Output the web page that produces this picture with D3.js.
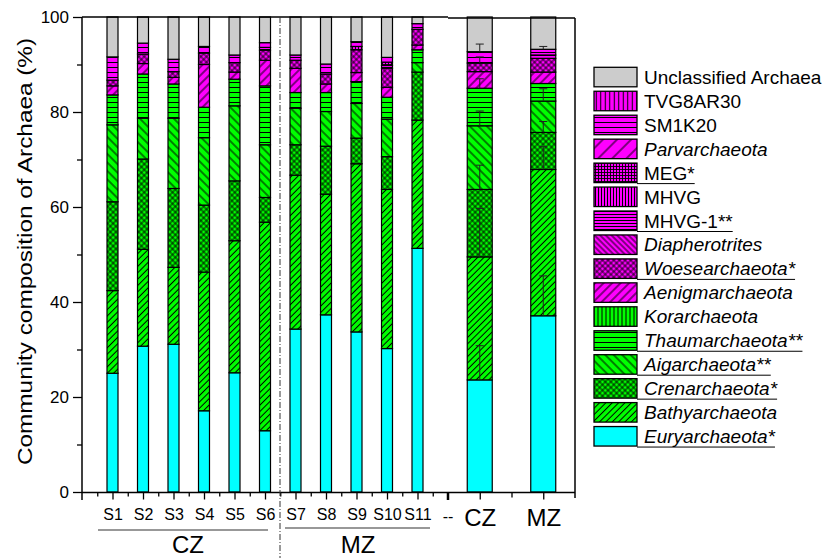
<!DOCTYPE html>
<html><head><meta charset="utf-8">
<script src="https://cdn.jsdelivr.net/npm/d3@7"></script>
<style>body{margin:0;background:#fff}svg{display:block}text{font-family:"Liberation Sans",Arial,sans-serif}</style>
</head><body><svg id="c" width="829" height="558"></svg>
<script>
// ---- data (S1..S11, then CZ mean, MZ mean) ----
const samples = ["S1","S2","S3","S4","S5","S6","S7","S8","S9","S10","S11"];
const means = ["CZ","MZ"];
const groupLabels = ["CZ","MZ"];
const yTicks = [0,20,40,60,80,100];
// bottom-up stacking order
const euryarchaeota   = [25.0,30.7,31.1,17.1,25.1,12.9,34.3,37.3,33.7,30.2,51.3, 23.6,37.1];
const bathyarchaeota  = [17.4,20.4,16.2,29.2,27.8,43.9,32.4,25.4,35.4,33.5,27.0, 25.9,30.8];
const crenarchaeota   = [18.7,19.0,16.6,14.1,12.6, 5.2, 6.4,10.1, 5.4, 6.9,10.1, 14.2, 7.8];
const aigarchaeota    = [16.2, 8.6,14.8,14.2,15.8,11.1, 7.7, 7.3, 7.3, 7.9, 2.0, 13.4, 6.6];
const thaumarchaeota  = [ 6.3, 9.3, 7.2, 6.4, 5.6,12.4, 3.3, 4.0, 4.6, 4.6, 2.7,  7.9, 3.7];
const korarchaeota    = [ 0.0, 0.0, 0.0, 0.0, 0.0, 0.0, 0.0, 0.0, 0.0, 0.0, 0.0,  0.0, 0.0];
const aenigmarchaeota = [ 1.9, 2.2, 1.4, 9.0, 1.5, 5.4, 5.1, 1.8, 1.9, 2.1, 1.0,  3.5, 2.4];
const woesearchaeota  = [ 1.2, 2.0, 1.2, 2.4, 2.0, 2.1, 1.7, 2.1, 4.8, 4.0, 3.3,  1.8, 2.9];
const diapherotrites  = [ 0.0, 0.0, 0.0, 0.0, 0.0, 0.0, 0.0, 0.0, 0.0, 0.0, 0.0,  0.0, 0.0];
const mhvg1           = [ 0.0, 0.0, 0.0, 0.0, 0.0, 0.6, 0.0, 0.0, 0.0, 0.6, 0.0,  0.0, 0.7];
const mhvg            = [ 0.0, 0.0, 0.0, 0.0, 0.0, 0.0, 0.0, 0.0, 0.0, 0.0, 0.0,  0.0, 0.0];
const meg             = [ 0.0, 0.0, 0.0, 0.0, 0.0, 0.0, 0.0, 0.0, 0.7, 0.7, 0.0,  0.0, 0.0];
const parvarchaeota   = [ 0.0, 0.0, 0.0, 0.0, 0.0, 0.0, 0.0, 0.0, 0.0, 0.0, 0.0,  0.0, 0.0];
const sm1k20          = [ 4.9, 2.3, 2.6, 1.4, 1.6, 1.0, 1.1, 2.1, 1.0, 1.0, 1.2,  2.4, 1.2];
const tvg8ar30        = [ 0.0, 0.0, 0.0, 0.0, 0.0, 0.0, 0.0, 0.0, 0.0, 0.0, 0.0,  0.0, 0.0];
const unclassified    = [ 8.4, 5.5, 8.9, 6.2, 8.0, 5.4, 8.0, 9.9, 5.2, 8.5, 1.4,  7.3, 6.8];
// error bars (upper) for CZ and MZ means, same order as taxa below
const errCZ = [7.2,10.2,5.1,3.1,2.0,0,0,1.3,0,0,0,0,0,1.6,0,0];
const errMZ = [8.4,4.8,2.3,2.6,0,0,0,0,0,0,0,0,0,0.6,0,0];

const taxa = [
 {name:"Euryarchaeota*",   v:euryarchaeota,  col:"#00ffff", pat:"solid", it:true,  ul:true},
 {name:"Bathyarchaeota",   v:bathyarchaeota, col:"#00ff00", pat:"fwd",  s:4.5,it:true,  ul:false},
 {name:"Crenarchaeota*",   v:crenarchaeota,  col:"#00ff00", pat:"cross",s:4,  it:true,  ul:true},
 {name:"Aigarchaeota**",   v:aigarchaeota,   col:"#00ff00", pat:"back", s:6,  it:true,  ul:true},
 {name:"Thaumarchaeota**", v:thaumarchaeota, col:"#00ff00", pat:"h",    s:5,  it:true,  ul:true},
 {name:"Korarchaeota",     v:korarchaeota,   col:"#00ff00", pat:"v",    s:4,  it:true,  ul:false},
 {name:"Aenigmarchaeota",  v:aenigmarchaeota,col:"#ff00ff", pat:"fwd",  s:6,  it:true,  ul:false},
 {name:"Woesearchaeota*",  v:woesearchaeota, col:"#ff00ff", pat:"cross",s:4,  it:true,  ul:true},
 {name:"Diapherotrites",   v:diapherotrites, col:"#ff00ff", pat:"back", s:4,  it:true,  ul:false},
 {name:"MHVG-1**",         v:mhvg1,          col:"#ff00ff", pat:"h",    s:3,  it:false, ul:true},
 {name:"MHVG",             v:mhvg,           col:"#ff00ff", pat:"v",    s:3,  it:false, ul:false},
 {name:"MEG*",             v:meg,            col:"#ff00ff", pat:"grid", s:3,  it:false, ul:true},
 {name:"Parvarchaeota",    v:parvarchaeota,  col:"#ff00ff", pat:"fwd",  s:10, it:true,  ul:false},
 {name:"SM1K20",           v:sm1k20,         col:"#ff00ff", pat:"h",    s:5,  it:false, ul:false},
 {name:"TVG8AR30",         v:tvg8ar30,       col:"#ff00ff", pat:"v",    s:4.5,it:false, ul:false},
 {name:"Unclassified Archaea", v:unclassified, col:"#cccccc", pat:"solid", it:false, ul:false}
];

const svg = d3.select("#c");
const defs = svg.append("defs");
taxa.forEach((t,k)=>{
  t.id = "p"+k;
  if(t.pat==="solid"){ t.fill=t.col; return; }
  const s=t.s;
  const p=defs.append("pattern").attr("id",t.id).attr("patternUnits","userSpaceOnUse")
    .attr("width",s).attr("height",s);
  if(t.pat==="fwd") p.attr("patternTransform","rotate(45)");
  if(t.pat==="back") p.attr("patternTransform","rotate(-45)");
  if(t.pat==="cross") p.attr("patternTransform","rotate(45)");
  p.append("rect").attr("width",s).attr("height",s).attr("fill",t.col);
  const ln=(x1,y1,x2,y2)=>p.append("line").attr("x1",x1).attr("y1",y1).attr("x2",x2).attr("y2",y2)
     .attr("stroke","#000").attr("stroke-width",t.pat==="cross"||t.pat==="grid"?0.9:1);
  if(t.pat==="v"||t.pat==="fwd"||t.pat==="back"||t.pat==="grid"||t.pat==="cross") ln(s/2,0,s/2,s);
  if(t.pat==="h"||t.pat==="grid"||t.pat==="cross") ln(0,s/2,s,s/2);
  t.fill="url(#"+t.id+")";
});

const y = d3.scaleLinear().domain([0,100]).range([492,17]);
const xL = d3.scaleLinear().domain([0,12]).range([82,448]);
const xR = d3.scaleLinear().domain([0,4]).range([448,575]);

const nS = samples.length;
function stackFor(j){
  let acc=0; return taxa.map((t,k)=>{const a=acc; acc+=t.v[j]; return {k,y0:a,y1:acc};});
}
const g = svg.append("g");
function drawBar(cx,w,j,err){
  const st=stackFor(j);
  st.forEach(d=>{
    const t=taxa[d.k]; let y1=d.y1; if(d.k===taxa.length-1) y1=100;
    if(y1-d.y0<=0) return;
    g.append("rect").attr("x",cx-w/2).attr("width",w).attr("y",y(y1)).attr("height",y(d.y0)-y(y1))
      .attr("fill",t.fill).attr("stroke","#000").attr("stroke-width",1.2);
  });
  if(err){
    st.forEach(d=>{
      const e=err[d.k]; if(!e) return;
      g.append("line").attr("x1",cx).attr("x2",cx).attr("y1",y(d.y1)).attr("y2",y(d.y1+e)).attr("stroke","#222").attr("stroke-width",1);
      g.append("line").attr("x1",cx-4).attr("x2",cx+4).attr("y1",y(d.y1+e)).attr("y2",y(d.y1+e)).attr("stroke","#222").attr("stroke-width",1);
    });
  }
}
samples.forEach((s,i)=>drawBar(xL(i+1),11,i,null));
means.forEach((m,i)=>drawBar(xR(1+2*i),25,nS+i,i===0?errCZ:errMZ));

// frames
svg.append("line").attr("x1",82).attr("x2",448).attr("y1",17).attr("y2",17).attr("stroke","#000").attr("stroke-width",1.5);
svg.append("line").attr("x1",448).attr("x2",575).attr("y1",18).attr("y2",18).attr("stroke","#000").attr("stroke-width",1.5);
svg.append("line").attr("x1",575).attr("x2",575).attr("y1",18).attr("y2",498).attr("stroke","#000").attr("stroke-width",1.5);

// y axis
const ya = svg.append("g").attr("transform","translate(82,0)")
  .call(d3.axisLeft(y).tickValues(yTicks).tickSize(9).tickPadding(4).tickFormat(d3.format("d")));
ya.select(".domain").attr("stroke-width",1.5).attr("d","M0,17V500");
ya.selectAll(".tick line").attr("stroke-width",1.3);
ya.selectAll("text").attr("font-size",17).attr("fill","#000");
svg.append("g").attr("transform","translate(82,0)")
  .call(d3.axisLeft(y).tickValues([10,30,50,70,90]).tickSize(5).tickFormat(""))
  .call(a=>a.select(".domain").remove()).selectAll("line").attr("stroke-width",1.3);

// bottom axis
svg.append("line").attr("x1",82).attr("x2",575).attr("y1",492.5).attr("y2",492.5).attr("stroke","#000").attr("stroke-width",1.5);
const xa = svg.append("g").attr("transform","translate(0,492.5)")
  .call(d3.axisBottom(xL).tickValues(d3.range(1,12)).tickSize(7).tickPadding(9).tickFormat(i=>samples[i-1]));
xa.select(".domain").remove();
xa.selectAll(".tick line").attr("stroke-width",1.3);
xa.selectAll("text").attr("font-size",16).attr("fill","#000");
svg.append("g").attr("transform","translate(0,492.5)")
  .call(d3.axisBottom(xL).tickValues(d3.range(0.5,12,1)).tickSize(4).tickFormat(""))
  .call(a=>a.select(".domain").remove()).selectAll("line").attr("stroke-width",1.3);
svg.append("line").attr("x1",xL(12)).attr("x2",xL(12)).attr("y1",492).attr("y2",500).attr("stroke","#000").attr("stroke-width",2.5);
svg.append("text").attr("x",xL(12)).attr("y",522).attr("text-anchor","middle").attr("font-size",16).text("--");

const xb = svg.append("g").attr("transform","translate(0,492.5)")
  .call(d3.axisBottom(xR).tickValues([1,3]).tickSize(7).tickPadding(9).tickFormat((d,i)=>means[i]));
xb.select(".domain").remove();
xb.selectAll(".tick line").attr("stroke-width",1.3);
xb.selectAll("text").attr("font-size",24).attr("fill","#000");
svg.append("g").attr("transform","translate(0,492.5)")
  .call(d3.axisBottom(xR).tickValues([2]).tickSize(5).tickFormat(""))
  .call(a=>a.select(".domain").remove()).selectAll("line").attr("stroke-width",1.3);

// group separators & labels
svg.append("line").attr("x1",280).attr("x2",280).attr("y1",17).attr("y2",558)
  .attr("stroke","#333").attr("stroke-width",1).attr("stroke-dasharray","6,2,1,2");
svg.append("line").attr("x1",98).attr("x2",268).attr("y1",530).attr("y2",530).attr("stroke","#333").attr("stroke-width",1.2);
svg.append("line").attr("x1",285).attr("x2",430).attr("y1",528).attr("y2",528).attr("stroke","#333").attr("stroke-width",1.2);
svg.append("text").attr("x",188).attr("y",553).attr("text-anchor","middle").attr("font-size",24).text(groupLabels[0]);
svg.append("text").attr("x",358).attr("y",553).attr("text-anchor","middle").attr("font-size",24).text(groupLabels[1]);

// y title
svg.append("text").attr("transform","translate(32,251.5) rotate(-90)").attr("text-anchor","middle")
  .attr("font-size",20).attr("textLength",427).attr("lengthAdjust","spacingAndGlyphs")
  .text("Community composition of Archaea (%)");

// legend (top-down)
const leg = taxa.slice().reverse();
leg.forEach((t,i)=>{
  const yy = 67.3 + i*23.95;
  svg.append("rect").attr("x",594).attr("y",yy).attr("width",43).attr("height",19.5)
    .attr("fill",t.fill).attr("stroke","#000").attr("stroke-width",1.3);
  const tx = svg.append("text").attr("x",644).attr("y",yy+16.5).attr("font-size",19)
    .attr("font-style",t.it?"italic":"normal").text(t.name);
  if(t.ul){
    const L = tx.node().getComputedTextLength();
    svg.append("line").attr("x1",637).attr("x2",644+L).attr("y1",yy+20.5).attr("y2",yy+20.5)
      .attr("stroke","#000").attr("stroke-width",1);
  }
});
</script></body></html>
